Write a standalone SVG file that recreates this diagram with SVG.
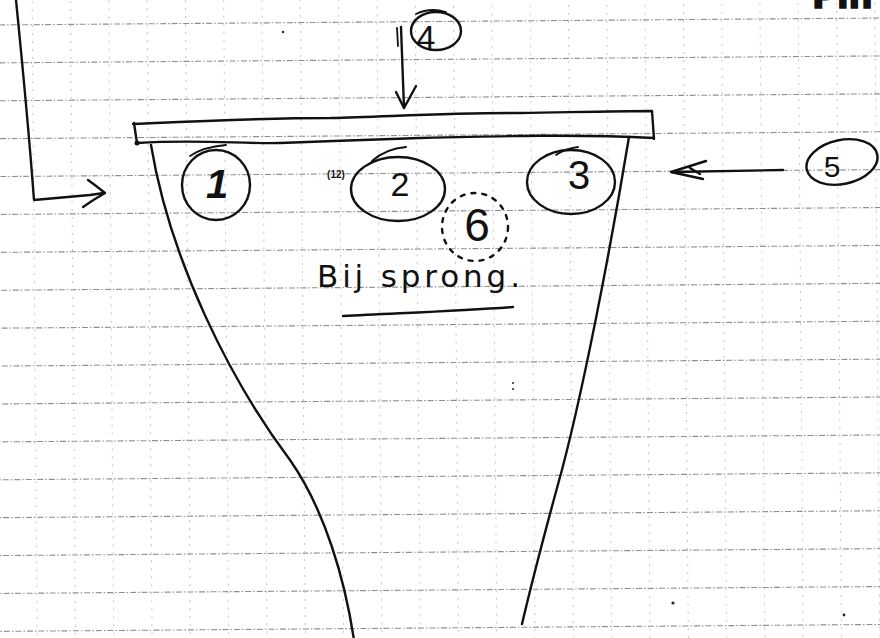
<svg xmlns="http://www.w3.org/2000/svg" width="880" height="638" viewBox="0 0 880 638">
<style>
.ink{fill:none;stroke:#111;stroke-width:2.4;stroke-linecap:round;stroke-linejoin:round}
.thin{fill:none;stroke:#111;stroke-width:1.8;stroke-linecap:round}
.hgrid{fill:none;stroke:#8f8f8f;stroke-width:1.1;stroke-dasharray:6 2 1.5 2}
.vgrid{fill:none;stroke:#c4c4c4;stroke-width:1;stroke-dasharray:2 6}
.num{font-family:"Liberation Sans",Arial,sans-serif;fill:#111;text-anchor:middle}
.hand{font-family:"DejaVu Sans","Liberation Sans",Arial,sans-serif;fill:#111}
</style>
<rect width="880" height="638" fill="#ffffff"/>
<g id="grid" transform="rotate(-0.45 440 319)">
<path class="hgrid" d="M-10,21.5H890M-10,59.4H890M-10,97.3H890M-10,135.2H890M-10,173.1H890M-10,211H890M-10,248.9H890M-10,286.8H890M-10,324.7H890M-10,362.6H890M-10,400.5H890M-10,438.4H890M-10,476.3H890M-10,514.2H890M-10,552.1H890M-10,590H890M-10,627.9H890"/>
<path class="vgrid" d="M34.7,-10V650M73,-10V650M111.3,-10V650M149.6,-10V650M187.9,-10V650M226.2,-10V650M264.5,-10V650M302.8,-10V650M341.1,-10V650M379.4,-10V650M417.7,-10V650M456,-10V650M494.3,-10V650M532.6,-10V650M570.9,-10V650M609.2,-10V650M647.5,-10V650M685.8,-10V650M724.1,-10V650M762.4,-10V650M800.7,-10V650M839,-10V650M877.3,-10V650"/>
</g>
<g id="specks" fill="#222">
<circle cx="283" cy="32" r="1.2"/>
<circle cx="513" cy="383" r="1"/>
<circle cx="513" cy="389" r="1"/>
<circle cx="673" cy="603" r="1.6"/>
<circle cx="844" cy="615" r="1.4"/>
</g>
<text class="hand" x="812" y="8" font-size="34" font-weight="bold" stroke="#111" stroke-width="1.5">Pin</text>
<g id="funnel">
<path id="bar" class="ink" stroke-width="2.8" d="M133,124 C200,121 260,118 330,118 C400,116 450,113 520,113 C580,112 620,111 652,111 L654,139 M137,143 C200,139 240,144 280,143 C330,141 360,140 420,138 C500,136 580,134 654,138 M134,123 L137,143"/>
<circle cx="137" cy="143" r="2.5" fill="#111"/>
<path class="ink" d="M151,145 C170,260 230,380 290,460 C325,510 345,580 354,640"/>
<path class="ink" d="M629,137 C612,240 582,400 557,488 C545,532 530,590 522,624"/>
</g>
<g id="node1">
<ellipse class="ink" cx="216" cy="185" rx="34" ry="35"/>
<path class="thin" d="M190,156 C200,149 214,146 226,145"/>
<text class="num" x="217" y="198" font-size="40" font-style="italic" font-weight="bold">1</text>
</g>
<g id="node2">
<ellipse class="ink" cx="398" cy="189" rx="47" ry="32"/>
<path class="thin" d="M372,161 C382,152 394,148 406,147"/>
<text class="num" x="400" y="196" font-size="34">2</text>
<text class="num" x="336" y="178" font-size="10" font-weight="bold">(12)</text>
</g>
<g id="node3">
<ellipse class="ink" cx="571" cy="182" rx="44" ry="32"/>
<path class="thin" d="M556,155 C563,150 570,148 578,147"/>
<text class="num" x="579" y="189" font-size="40">3</text>
</g>
<g id="node4">
<ellipse class="ink" cx="436" cy="31" rx="25" ry="19"/>
<path class="thin" d="M416,14 C426,9 436,9 446,12"/>
<text class="num" x="426" y="49" font-size="34">4</text>
</g>
<g id="node5">
<ellipse class="ink" cx="842" cy="162" rx="36" ry="22" transform="rotate(-12 842 162)"/>
<text class="num" x="832" y="177" font-size="30">5</text>
</g>
<g id="node6">
<ellipse class="ink" cx="475" cy="227" rx="33" ry="34" stroke-width="1.8" stroke-dasharray="4 7"/>
<text class="num" x="477" y="241" font-size="46">6</text>
</g>
<g id="label">
<text class="hand" x="317" y="287" font-size="31" textLength="203" lengthAdjust="spacing">Bij sprong.</text>
<path class="ink" d="M343,316 C400,313 460,311 513,307"/>
</g>
<g id="connectors">
<path class="ink" d="M16,0 C22,60 28,120 34,200 L90,195 L104,193"/>
<path class="ink" d="M88,180 C95,185 100,189 105,193 C98,197 90,202 83,207"/>
<path class="ink" d="M401,27 L404,108"/>
<path class="thin" d="M397,28 L398,46"/>
<path class="ink" d="M396,92 L404,108 L416,86"/>
<path class="ink" d="M783,170 L672,172"/>
<path class="ink" stroke-width="3" d="M706,161 L671,172 L703,179 M690,168 L700,174"/>
</g>
</svg>
